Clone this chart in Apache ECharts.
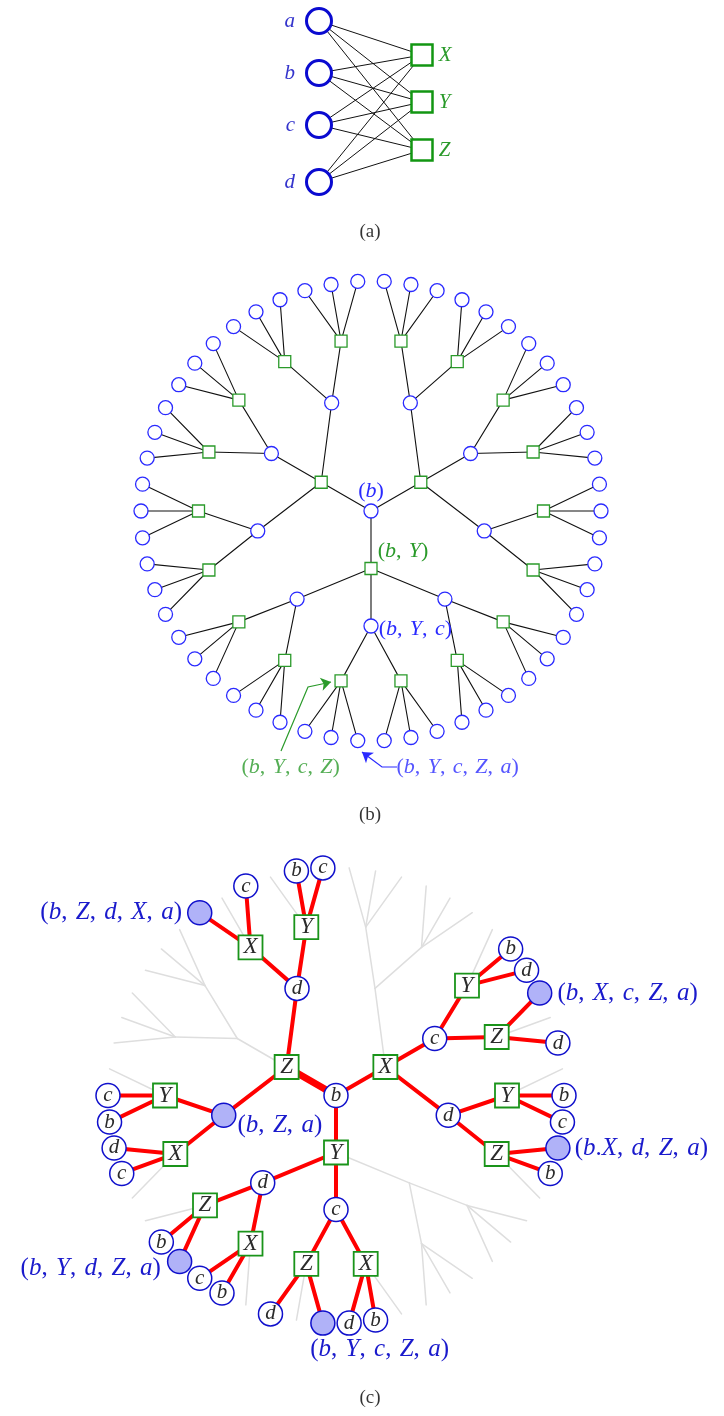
<!DOCTYPE html>
<html><head><meta charset="utf-8">
<script src="https://cdn.jsdelivr.net/npm/echarts@6/dist/echarts.min.js"></script>
<style>html,body{margin:0;padding:0;background:#fff}#c{width:724px;height:1416px}</style>
</head><body><div id="c"></div>
<script>
// ================= DATA =================
// (a) bipartite graph
const circleLetters = ['a', 'b', 'c', 'd'];
const squareLetters = ['X', 'Y', 'Z'];
const bipartiteEdges = [
  ['a','X'],['a','Y'],['a','Z'],
  ['b','X'],['b','Y'],['b','Z'],
  ['c','X'],['c','Y'],['c','Z'],
  ['d','X'],['d','Y'],['d','Z']
];
// (b)/(c) unfolded tree: node path (from root b) and its angle in degrees
const treeNodes = [
  ['b',0],
  ['bX',30],['bY',270],['bZ',150],
  ['bXa',70],['bXc',30],['bXd',350],
  ['bYa',310],['bYc',270],['bYd',230],
  ['bZa',190],['bZc',150],['bZd',110],
  ['bXaY',80],['bXaZ',60],['bXcY',40],['bXcZ',20],['bXdY',0],['bXdZ',340],
  ['bYaX',320],['bYaZ',300],['bYcX',280],['bYcZ',260],['bYdX',240],['bYdZ',220],
  ['bZaX',200],['bZaY',180],['bZcX',160],['bZcY',140],['bZdX',120],['bZdY',100],
  ['bXaYb',86.7],['bXaYc',80],['bXaYd',73.3],
  ['bXaZb',66.7],['bXaZc',60],['bXaZd',53.3],
  ['bXcYa',46.7],['bXcYb',40],['bXcYd',33.3],
  ['bXcZa',26.7],['bXcZb',20],['bXcZd',13.3],
  ['bXdYa',6.7],['bXdYb',0],['bXdYc',353.3],
  ['bXdZa',346.7],['bXdZb',340],['bXdZc',333.3],
  ['bYaXb',326.7],['bYaXc',320],['bYaXd',313.3],
  ['bYaZb',306.7],['bYaZc',300],['bYaZd',293.3],
  ['bYcXa',286.7],['bYcXb',280],['bYcXd',273.3],
  ['bYcZa',266.7],['bYcZb',260],['bYcZd',253.3],
  ['bYdXa',246.7],['bYdXb',240],['bYdXc',233.3],
  ['bYdZa',226.7],['bYdZb',220],['bYdZc',213.3],
  ['bZaXb',206.7],['bZaXc',200],['bZaXd',193.3],
  ['bZaYb',186.7],['bZaYc',180],['bZaYd',173.3],
  ['bZcXa',166.7],['bZcXb',160],['bZcXd',153.3],
  ['bZcYa',146.7],['bZcYb',140],['bZcYd',133.3],
  ['bZdXa',126.7],['bZdXb',120],['bZdXc',113.3],
  ['bZdYa',106.7],['bZdYb',100],['bZdYc',93.3]
];
// (c) highlighted sub-tree
const highlighted = [
  'b','bX','bY','bZ',
  'bZa','bZd','bZaX','bZaY','bZaYb','bZaYc','bZaXc','bZaXd',
  'bZdX','bZdY','bZdXa','bZdXc','bZdYb','bZdYc',
  'bXc','bXd','bXcY','bXcZ','bXcYb','bXcYd','bXcZa','bXcZd',
  'bXdY','bXdZ','bXdYb','bXdYc','bXdZa','bXdZb',
  'bYc','bYd','bYcX','bYcZ','bYcXb','bYcXd','bYcZa','bYcZd',
  'bYdX','bYdZ','bYdXb','bYdXc','bYdZa','bYdZb'
];
const thickEdges = ['bZ'];
const terminalLabels = [
  ['bZa','(b,Z,a)'],
  ['bZdXa','(b,Z,d,X,a)'],
  ['bXcZa','(b,X,c,Z,a)'],
  ['bXdZa','(b.X,d,Z,a)'],
  ['bYcZa','(b,Y,c,Z,a)'],
  ['bYdZa','(b,Y,d,Z,a)']
];
const treeBLabels = [['b','(b)'],['bY','(b,Y)'],['bYc','(b,Y,c)']];
const noteTexts = ['(b,Y,c,Z)','(b,Y,c,Z,a)'];
const captions = ['(a)','(b)','(c)'];

// ================= LAYOUT / STYLE =================
const SERIF = "'Liberation Serif', 'Times New Roman', 'DejaVu Serif', serif";
const aLayout = { cx: 319, sx: 422, cy: [21, 73, 125, 182], sy: [55, 102, 150] };
const captionPos = [[370, 232], [370, 815], [370, 1398]];
const notePos = [[241, 767], [396, 767]];
const notePaths = [
  [[281, 751], [308, 687], [322, 684]],
  [[397, 767], [382, 767], [370, 758]]
];
const noteTips = [[[322, 684], [331, 682]], [[370, 758], [362, 752]]];
const BLUE_B = '#2a2aff', GREEN_B = '#2a9a2a';
const BLUE_C = '#1010cc', GREEN_C = '#1a941a', LABEL_C = '#1a1acc';

const angleOf = {};
treeNodes.forEach(([p, a]) => angleOf[p] = a);
const isCircle = p => /[a-z]/.test(p[p.length - 1]);
const levelOf = p => p.length - 1;
const hlSet = new Set(highlighted);
const termMap = {}; terminalLabels.forEach(([p, t]) => termMap[p] = t);

function mathRich(str) {
  let out = '';
  for (const ch of str) {
    if (/[A-Za-z]/.test(ch)) out += '{i|' + ch + '}';
    else if (ch === ',') out += '{u|,\u2004}';
    else out += '{u|' + ch + '}';
  }
  return out;
}
function richStyle(size, color) {
  const base = { fontFamily: SERIF, fontSize: size, color: color };
  return { i: Object.assign({ fontStyle: 'italic' }, base), u: Object.assign({}, base) };
}
function mathLabel(text, size, color, extra) {
  const s = mathRich(text);
  return Object.assign({ show: true, formatter: () => s, rich: richStyle(size, color) }, extra || {});
}

const treeEdges = treeNodes.filter(([p]) => p.length > 1).map(([p]) => [p.slice(0, -1), p]);

function edgeSeries(polarIndex, pairs, color, width, z) {
  return {
    type: 'custom', coordinateSystem: 'polar', polarIndex: polarIndex, z: z, silent: true,
    data: pairs.map(([p, c]) => [levelOf(p), angleOf[p], levelOf(c), angleOf[c]]),
    renderItem: (params, api) => {
      const p1 = api.coord([api.value(0), api.value(1)]);
      const p2 = api.coord([api.value(2), api.value(3)]);
      return { type: 'line', shape: { x1: p1[0], y1: p1[1], x2: p2[0], y2: p2[1] },
               style: { stroke: color, lineWidth: width, lineCap: 'round' } };
    }
  };
}

// ---------- (a) ----------
const aCircleData = circleLetters.map((l, i) => ({
  value: [aLayout.cx, aLayout.cy[i]], symbol: 'circle', symbolSize: 25,
  itemStyle: { color: '#fff', borderColor: '#0a0ad0', borderWidth: 3, opacity: 1 },
  label: { show: true, position: 'left', distance: 10, formatter: l,
           fontFamily: SERIF, fontStyle: 'italic', fontSize: 21, color: '#3434cc' }
}));
const aSquareData = squareLetters.map((l, i) => ({
  value: [aLayout.sx, aLayout.sy[i]], symbol: 'rect', symbolSize: 21,
  itemStyle: { color: '#fff', borderColor: '#129612', borderWidth: 2.5, opacity: 1 },
  label: { show: true, position: 'right', distance: 5, formatter: l,
           fontFamily: SERIF, fontStyle: 'italic', fontSize: 21, color: '#2a9a2a' }
}));
const aEdgeData = bipartiteEdges.map(([c, s]) => ({
  coords: [[aLayout.cx, aLayout.cy[circleLetters.indexOf(c)]],
           [aLayout.sx, aLayout.sy[squareLetters.indexOf(s)]]]
}));

// ---------- (b) ----------
const bLabelMap = {}; treeBLabels.forEach(([p, t]) => bLabelMap[p] = t);
const bLabelCfg = {
  b: { position: 'top', distance: 1, color: BLUE_B },
  bY: { position: 'right', distance: 0, offset: [0, -17], color: GREEN_B },
  bYc: { position: 'right', distance: 0, offset: [0, 3], color: BLUE_B }
};
const bNodeData = treeNodes.map(([p, a]) => {
  const circ = isCircle(p);
  const item = {
    value: [levelOf(p), a], symbol: circ ? 'circle' : 'rect', symbolSize: circ ? 14 : 12,
    itemStyle: { color: '#fff', borderColor: circ ? BLUE_B : GREEN_B, borderWidth: 1.3, opacity: 1 }
  };
  if (bLabelMap[p]) {
    const cfg = bLabelCfg[p];
    item.label = mathLabel(bLabelMap[p], 22, cfg.color,
      { position: cfg.position, distance: cfg.distance, offset: cfg.offset || [0, 0] });
  }
  return item;
});

// ---------- (c) ----------
const termCfg = {
  bZa: { position: 'right', distance: 1, offset: [0, 10] },
  bZdXa: { position: 'left', distance: 5 },
  bXcZa: { position: 'right', distance: 5 },
  bXdZa: { position: 'right', distance: 4 },
  bYcZa: { position: [0, 27], align: 'left', verticalAlign: 'top' },
  bYdZa: { position: 'left', distance: 6, offset: [0, 7] }
};
const cNodeData = treeNodes.filter(([p]) => hlSet.has(p)).map(([p, a]) => {
  const circ = isCircle(p);
  const letter = p[p.length - 1];
  const item = {
    value: [levelOf(p), a], symbol: circ ? 'circle' : 'rect', symbolSize: 24,
    itemStyle: { color: '#fff', borderColor: circ ? BLUE_C : GREEN_C, borderWidth: circ ? 1.5 : 1.8, opacity: 1 }
  };
  if (termMap[p]) {
    item.itemStyle.color = '#b0b2f8';
    item.label = mathLabel(termMap[p], 25, LABEL_C, termCfg[p]);
  } else {
    item.label = { show: true, position: 'inside', formatter: letter, fontFamily: SERIF,
                   fontStyle: 'italic', fontSize: circ ? 21 : 23, color: '#2b2b2b' };
  }
  return item;
});
const redEdges = treeEdges.filter(([p, c]) => hlSet.has(p) && hlSet.has(c) && thickEdges.indexOf(c) < 0);
const thickRed = treeEdges.filter(([p, c]) => thickEdges.indexOf(c) >= 0);

// ---------- annotations / captions ----------
const noteColors = [GREEN_B, BLUE_B];
const noteData = noteTexts.map((t, i) => ({
  value: notePos[i], symbolSize: 1, itemStyle: { color: 'rgba(0,0,0,0)' },
  label: mathLabel(t, 22, noteColors[i], { position: 'right', distance: 0 })
}));
const captionData = captions.map((t, i) => ({
  value: captionPos[i], symbolSize: 1, itemStyle: { color: 'rgba(0,0,0,0)' },
  label: { show: true, position: 'inside', formatter: t, fontFamily: SERIF, fontSize: 19, color: '#000' }
}));

const option = {
  animation: false,
  grid: { left: 0, right: 0, top: 0, bottom: 0 },
  xAxis: { type: 'value', min: 0, max: 724, show: false },
  yAxis: { type: 'value', min: 0, max: 1416, inverse: true, show: false },
  polar: [
    { center: [371, 511], radius: 230 },
    { center: [336, 1095.5], radius: 228 }
  ],
  radiusAxis: [
    { polarIndex: 0, type: 'value', min: 0, max: 4, show: false },
    { polarIndex: 1, type: 'value', min: 0, max: 4, show: false }
  ],
  angleAxis: [
    { polarIndex: 0, type: 'value', min: 0, max: 360, startAngle: 0, clockwise: false, show: false },
    { polarIndex: 1, type: 'value', min: 0, max: 360, startAngle: 0, clockwise: false, show: false }
  ],
  series: [
    // (a)
    { type: 'lines', coordinateSystem: 'cartesian2d', z: 1, silent: true, data: aEdgeData,
      lineStyle: { color: '#111', width: 1, opacity: 1 }, symbol: 'none' },
    { type: 'scatter', z: 3, silent: true, data: aCircleData.concat(aSquareData) },
    // (b)
    edgeSeries(0, treeEdges, '#111', 1.1, 1),
    { type: 'scatter', coordinateSystem: 'polar', polarIndex: 0, z: 3, silent: true, data: bNodeData },
    { type: 'lines', coordinateSystem: 'cartesian2d', polyline: true, z: 2, silent: true,
      data: notePaths.map((c, i) => ({ coords: c, lineStyle: { color: noteColors[i] } })),
      lineStyle: { width: 1.2, opacity: 1 }, symbol: 'none' },
    { type: 'lines', coordinateSystem: 'cartesian2d', z: 2, silent: true,
      data: noteTips.map((c, i) => ({ coords: c, lineStyle: { color: noteColors[i] } })),
      lineStyle: { width: 1.2, opacity: 1 }, symbol: ['none', 'arrow'], symbolSize: [7, 10] },
    { type: 'scatter', z: 4, silent: true, data: noteData },
    // (c)
    edgeSeries(1, treeEdges, '#dedede', 1.5, 1),
    edgeSeries(1, redEdges, '#ff0000', 4, 2),
    edgeSeries(1, thickRed, '#ff0000', 7, 2),
    { type: 'scatter', coordinateSystem: 'polar', polarIndex: 1, z: 3, silent: true, data: cNodeData },
    // captions
    { type: 'scatter', z: 4, silent: true, data: captionData }
  ]
};
const chart = echarts.init(document.getElementById('c'), null, { renderer: 'canvas' });
chart.setOption(option);
</script></body></html>
